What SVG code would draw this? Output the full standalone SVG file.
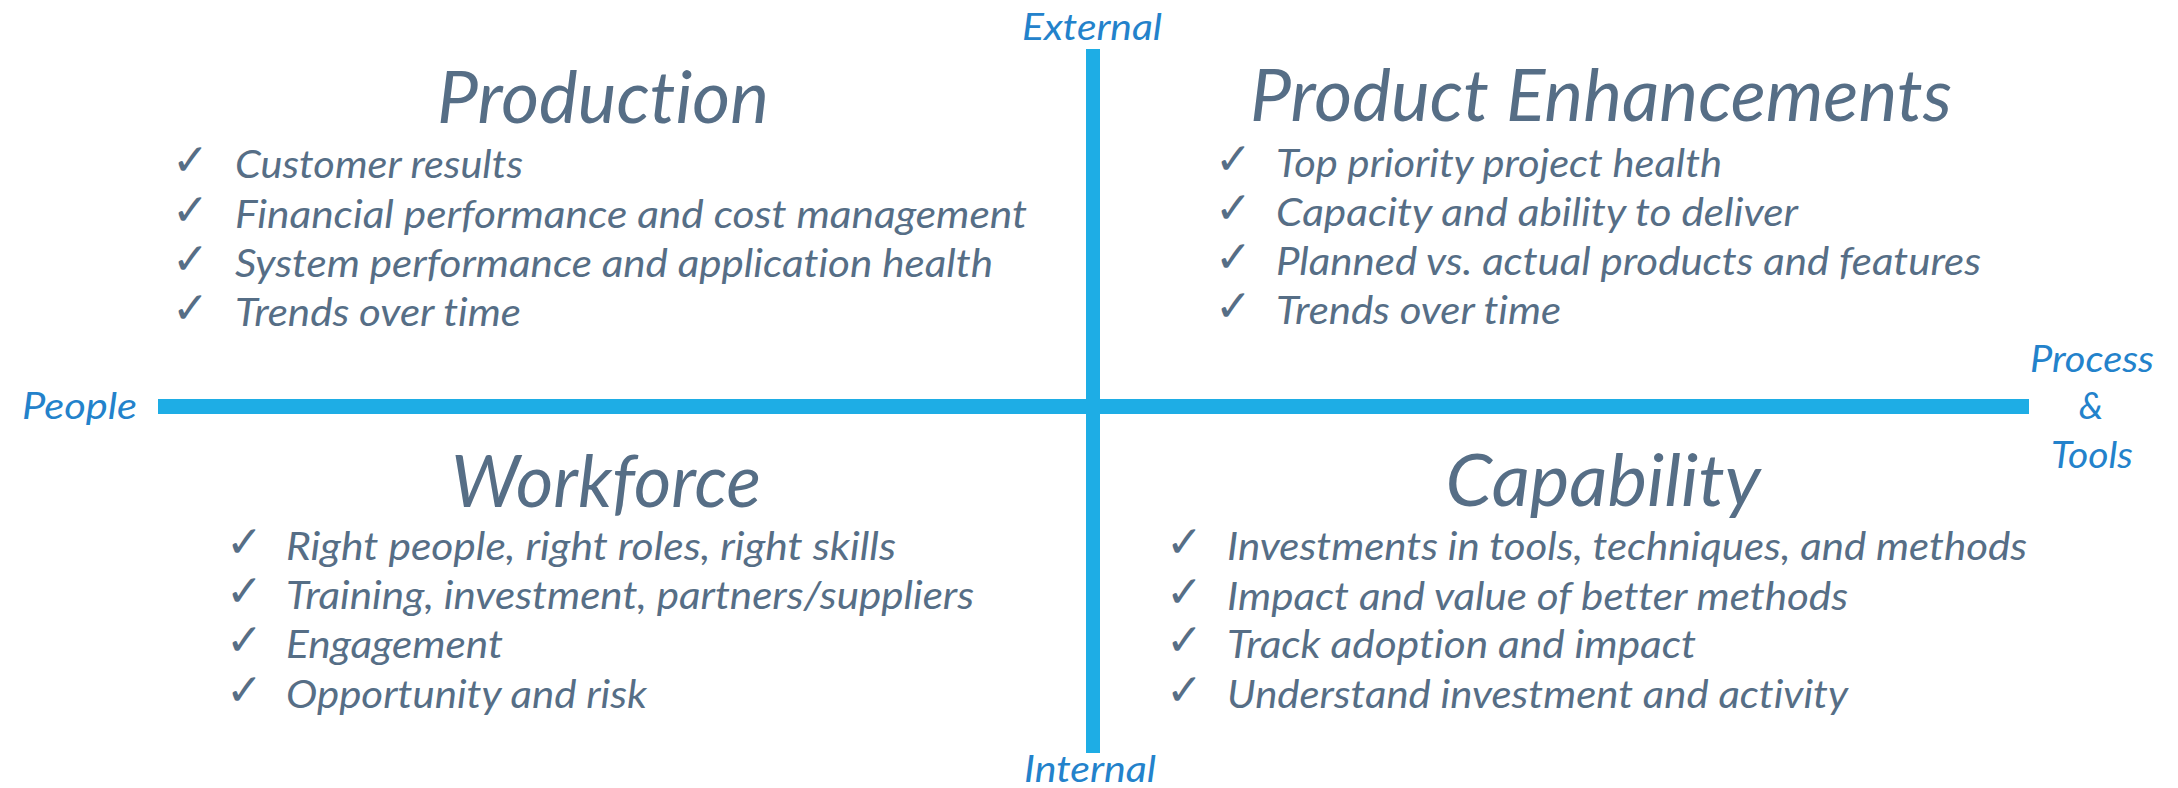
<svg xmlns="http://www.w3.org/2000/svg" width="2178" height="788" viewBox="0 0 2178 788">
<style>
.t{font-family:Lato,"Open Sans","Liberation Sans",sans-serif;font-style:italic;fill:#566e86;font-variant-ligatures:none}
.title{font-size:71px;text-anchor:middle}
.b{font-size:39px}
.ck{font-family:"DejaVu Sans",sans-serif;font-size:44px;fill:#566e86}
.ax{font-family:Lato,"Open Sans","Liberation Sans",sans-serif;font-style:italic;font-size:37px;fill:#2382cb}
.axis{fill:#1eade5}
</style>
<rect width="2178" height="788" fill="#ffffff"/>
<g id="connectors">
<rect class="axis" x="1086" y="49" width="14" height="704"/>
<rect class="axis" x="158" y="399" width="1871" height="15"/>
</g>
<g id="axis-labels">
<text class="ax" x="1092" y="40" text-anchor="middle" textLength="140" lengthAdjust="spacingAndGlyphs">External</text>
<text class="ax" x="1090" y="782" text-anchor="middle" textLength="132" lengthAdjust="spacingAndGlyphs">Internal</text>
<text class="ax" x="22" y="419" textLength="115" lengthAdjust="spacingAndGlyphs">People</text>
<text class="ax" x="2092" y="372" text-anchor="middle" textLength="124" lengthAdjust="spacingAndGlyphs">Process</text>
<text class="ax" x="2091" y="419" text-anchor="middle">&amp;</text>
<text class="ax" x="2092" y="468" text-anchor="middle" textLength="82" lengthAdjust="spacingAndGlyphs">Tools</text>
</g>
<g id="production">
<text class="t title" x="603" y="123" textLength="332" lengthAdjust="spacingAndGlyphs">Production</text>
<text class="ck" x="172" y="175">✓</text>
<text class="ck" x="172" y="225">✓</text>
<text class="ck" x="172" y="274">✓</text>
<text class="ck" x="172" y="323">✓</text>
<text class="t b" x="235" y="178" textLength="288" lengthAdjust="spacingAndGlyphs">Customer results</text>
<text class="t b" x="235" y="228" textLength="792" lengthAdjust="spacingAndGlyphs">Financial performance and cost management</text>
<text class="t b" x="235" y="277" textLength="758" lengthAdjust="spacingAndGlyphs">System performance and application health</text>
<text class="t b" x="235" y="326" textLength="286" lengthAdjust="spacingAndGlyphs">Trends over time</text>
</g>
<g id="product-enhancements">
<text class="t title" x="1601" y="121" textLength="702" lengthAdjust="spacingAndGlyphs">Product Enhancements</text>
<text class="ck" x="1215" y="174">✓</text>
<text class="ck" x="1215" y="223">✓</text>
<text class="ck" x="1215" y="272">✓</text>
<text class="ck" x="1215" y="321">✓</text>
<text class="t b" x="1276" y="177" textLength="446" lengthAdjust="spacingAndGlyphs">Top priority project health</text>
<text class="t b" x="1276" y="226" textLength="522" lengthAdjust="spacingAndGlyphs">Capacity and ability to deliver</text>
<text class="t b" x="1276" y="275" textLength="705" lengthAdjust="spacingAndGlyphs">Planned vs. actual products and features</text>
<text class="t b" x="1276" y="324" textLength="285" lengthAdjust="spacingAndGlyphs">Trends over time</text>
</g>
<g id="workforce">
<text class="t title" x="606" y="507" textLength="310" lengthAdjust="spacingAndGlyphs">Workforce</text>
<text class="ck" x="226" y="557">✓</text>
<text class="ck" x="226" y="606">✓</text>
<text class="ck" x="226" y="655">✓</text>
<text class="ck" x="226" y="705">✓</text>
<text class="t b" x="286" y="560" textLength="610" lengthAdjust="spacingAndGlyphs">Right people, right roles, right skills</text>
<text class="t b" x="286" y="609" textLength="688" lengthAdjust="spacingAndGlyphs">Training, investment, partners/suppliers</text>
<text class="t b" x="286" y="658" textLength="217" lengthAdjust="spacingAndGlyphs">Engagement</text>
<text class="t b" x="286" y="708" textLength="361" lengthAdjust="spacingAndGlyphs">Opportunity and risk</text>
</g>
<g id="capability">
<text class="t title" x="1603" y="506" textLength="315" lengthAdjust="spacingAndGlyphs">Capability</text>
<text class="ck" x="1166" y="557">✓</text>
<text class="ck" x="1166" y="607">✓</text>
<text class="ck" x="1166" y="655">✓</text>
<text class="ck" x="1166" y="705">✓</text>
<text class="t b" x="1227" y="560" textLength="800" lengthAdjust="spacingAndGlyphs">Investments in tools, techniques, and methods</text>
<text class="t b" x="1227" y="610" textLength="621" lengthAdjust="spacingAndGlyphs">Impact and value of better methods</text>
<text class="t b" x="1227" y="658" textLength="469" lengthAdjust="spacingAndGlyphs">Track adoption and impact</text>
<text class="t b" x="1227" y="708" textLength="621" lengthAdjust="spacingAndGlyphs">Understand investment and activity</text>
</g>
</svg>
